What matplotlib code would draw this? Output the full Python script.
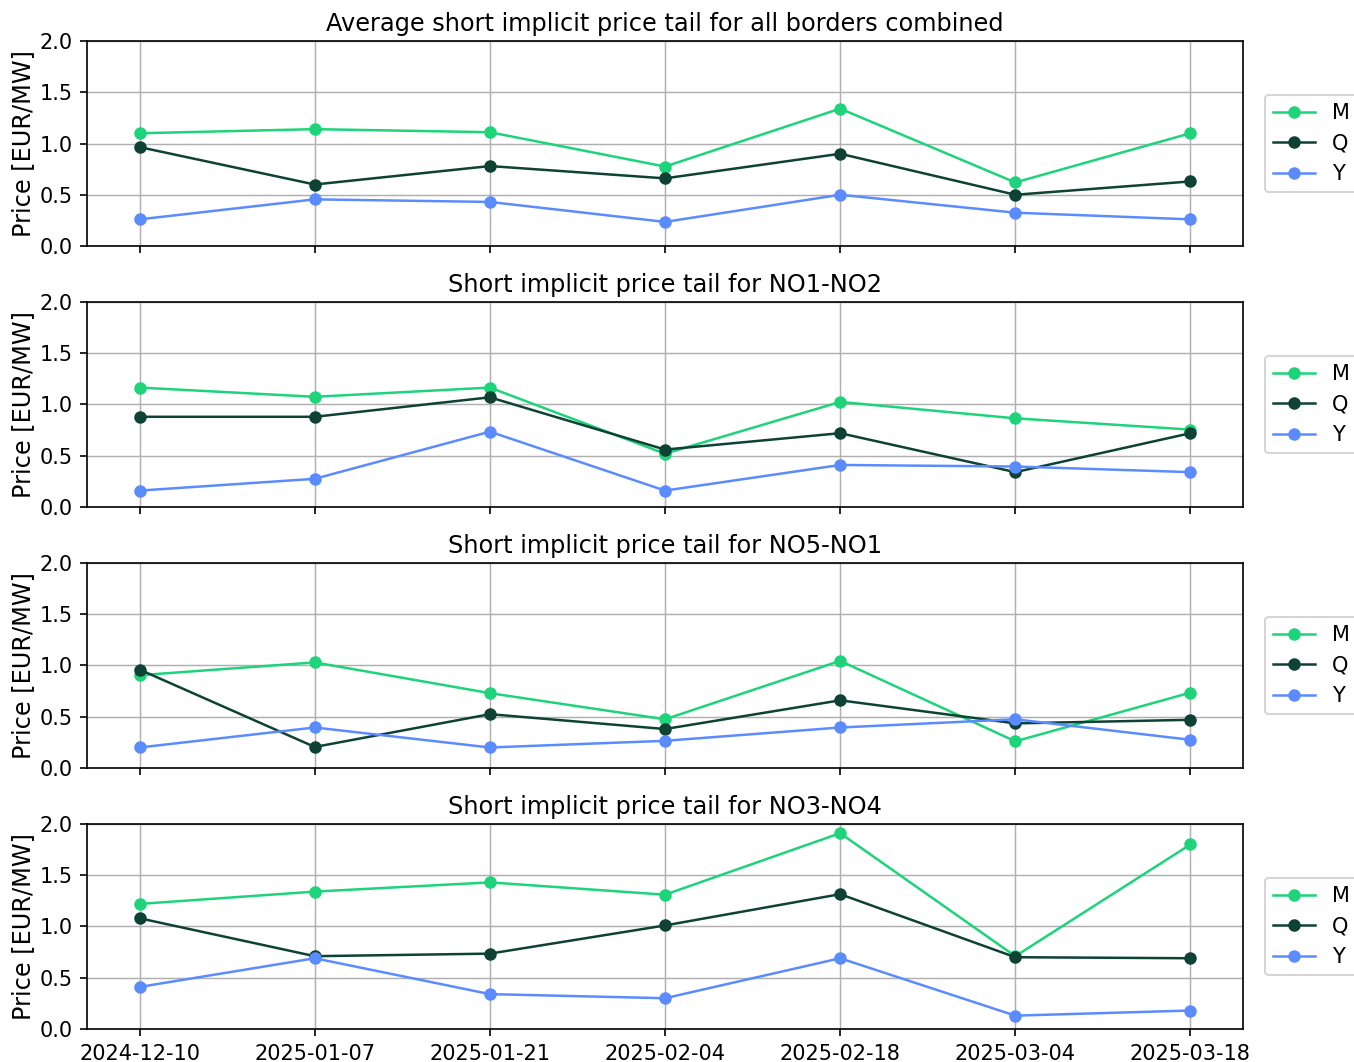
import matplotlib
matplotlib.use('Agg')
import matplotlib.pyplot as plt

# Auction dates (plotted as evenly spaced categories)
dates = ['2024-12-10', '2025-01-07', '2025-01-21', '2025-02-04',
         '2025-02-18', '2025-03-04', '2025-03-18']

titles = ['Average short implicit price tail for all borders combined',
          'Short implicit price tail for NO1-NO2',
          'Short implicit price tail for NO5-NO1',
          'Short implicit price tail for NO3-NO4']

# Price tails per product (M = month, Q = quarter, Y = year), EUR/MW
all_m = [1.10, 1.14, 1.11, 0.775, 1.34, 0.62, 1.10]
all_q = [0.965, 0.60, 0.78, 0.66, 0.90, 0.50, 0.63]
all_y = [0.26, 0.455, 0.43, 0.235, 0.50, 0.325, 0.26]

no1no2_m = [1.165, 1.075, 1.165, 0.52, 1.025, 0.865, 0.755]
no1no2_q = [0.88, 0.88, 1.07, 0.56, 0.72, 0.34, 0.72]
no1no2_y = [0.16, 0.275, 0.735, 0.16, 0.41, 0.395, 0.34]

no5no1_m = [0.905, 1.03, 0.73, 0.475, 1.045, 0.26, 0.735]
no5no1_q = [0.96, 0.205, 0.525, 0.38, 0.66, 0.435, 0.47]
no5no1_y = [0.20, 0.395, 0.20, 0.265, 0.395, 0.475, 0.275]

no3no4_m = [1.22, 1.34, 1.43, 1.31, 1.91, 0.71, 1.80]
no3no4_q = [1.08, 0.71, 0.735, 1.01, 1.315, 0.70, 0.69]
no3no4_y = [0.41, 0.69, 0.34, 0.30, 0.69, 0.13, 0.18]

panels = [(all_m, all_q, all_y),
          (no1no2_m, no1no2_q, no1no2_y),
          (no5no1_m, no5no1_q, no5no1_y),
          (no3no4_m, no3no4_q, no3no4_y)]

colors = {'M': '#1DD47A', 'Q': '#0E4234', 'Y': '#5B8CFF'}

plt.rcParams['font.size'] = 10

fig, axes = plt.subplots(4, 1, sharex=True, figsize=(1354 / 150, 1062 / 150), dpi=150)
fig.subplots_adjust(left=0.0643, right=0.918, top=0.9614, bottom=0.0311, hspace=0.273)

for ax, title, (m, q, y) in zip(axes, titles, panels):
    ax.plot(dates, m, marker='o', color=colors['M'], lw=1.2, ms=5, label='M')
    ax.plot(dates, q, marker='o', color=colors['Q'], lw=1.2, ms=5, label='Q')
    ax.plot(dates, y, marker='o', color=colors['Y'], lw=1.2, ms=5, label='Y')
    ax.set_title(title, fontsize=11.5, pad=5)
    ax.set_ylim(0, 2.0)
    ax.set_yticks([0, 0.5, 1.0, 1.5, 2.0])
    ax.set_ylabel('Price [EUR/MW]', fontsize=11.5, labelpad=2)
    ax.grid(True, lw=0.7)
    ax.legend(loc='center left', bbox_to_anchor=(1.01, 0.5))

fig.savefig('out.png', dpi=150)
